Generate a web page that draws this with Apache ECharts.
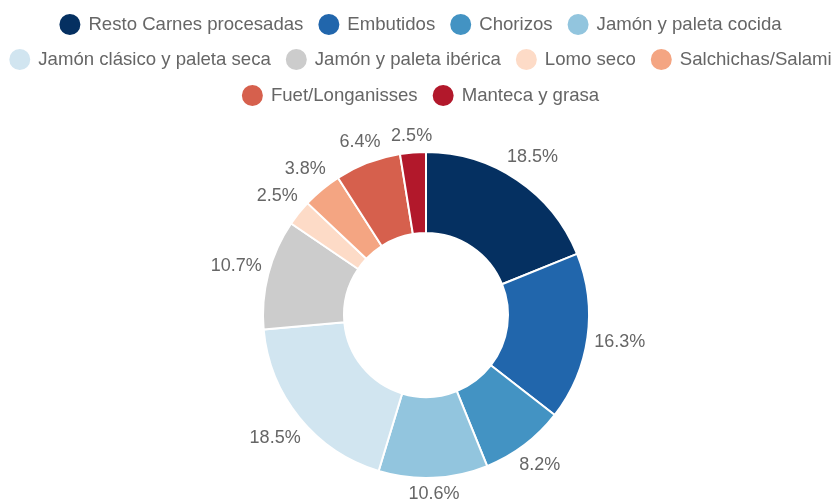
<!DOCTYPE html>
<html>
<head>
<meta charset="utf-8">
<script src="https://cdn.jsdelivr.net/npm/echarts@6/dist/echarts.min.js"></script>
<style>
  html, body { margin: 0; padding: 0; background: #fff; }
  #chart { width: 839px; height: 499px; }
</style>
</head>
<body>
<div id="chart"></div>
<script>
// categories and values (labels show the value with %)
const categories = [
  'Resto Carnes procesadas', 'Embutidos', 'Chorizos', 'Jamón y paleta cocida',
  'Jamón clásico y paleta seca', 'Jamón y paleta ibérica', 'Lomo seco', 'Salchichas/Salami',
  'Fuet/Longanisses', 'Manteca y grasa'
]
const values = [18.5, 16.3, 8.2, 10.6, 18.5, 10.7, 2.5, 3.8, 6.4, 2.5]
const colors = [
  '#053061', '#2166ac', '#4393c3', '#92c5de', '#d1e5f0',
  '#cccccc', '#fddbc7', '#f4a582', '#d6604d', '#b2182b'
]
// legend rows as drawn (each row centred)
const legendRows = [categories.slice(0, 4), categories.slice(4, 8), categories.slice(8)]

const FONT = 'Liberation Sans'
const CX = 426
const CY = 315
const R_IN = 82
const R_OUT = 163
const LABEL_GAP = 6

const total = values.reduce((a, b) => a + b, 0)
const midAngles = []
let acc = 0
for (let v of values) {
  midAngles.push((acc + v / 2) / total * Math.PI * 2)
  acc += v
}

const chart = echarts.init(document.getElementById('chart'))

const legendBase = {
  left: 'center',
  orient: 'horizontal',
  padding: 0,
  icon: 'circle',
  itemWidth: 27,
  itemHeight: 23,
  itemGap: 13,
  textStyle: { fontFamily: FONT, fontSize: 18.6, color: '#666' }
}
const legendTops = [12, 47, 83]

const option = {
  backgroundColor: '#fff',
  color: colors,
  legend: legendRows.map((row, i) => Object.assign({}, legendBase, { top: legendTops[i], data: row })),
  series: [
    {
      type: 'pie',
      center: [CX, CY],
      radius: [R_IN, R_OUT],
      startAngle: 90,
      clockwise: true,
      avoidLabelOverlap: false,
      itemStyle: { borderColor: '#fff', borderWidth: 2 },
      label: {
        show: true,
        position: 'outside',
        formatter: '{c}%',
        fontFamily: FONT,
        fontSize: 18,
        color: '#666'
      },
      labelLine: { show: false },
      // put each label just outside the ring, centred on the slice's mid direction
      labelLayout: function (params) {
        const a = midAngles[params.dataIndex]
        const dx = Math.sin(a)
        const dy = -Math.cos(a)
        const w = params.labelRect.width
        const h = params.labelRect.height
        const d = R_OUT + LABEL_GAP + w / 2 * Math.abs(dx) + h / 2 * Math.abs(dy)
        return { x: CX + dx * d, y: CY + dy * d, align: 'center', verticalAlign: 'middle' }
      },
      data: categories.map((name, i) => ({ name: name, value: values[i] }))
    }
  ]
}

chart.setOption(option)
</script>
</body>
</html>
